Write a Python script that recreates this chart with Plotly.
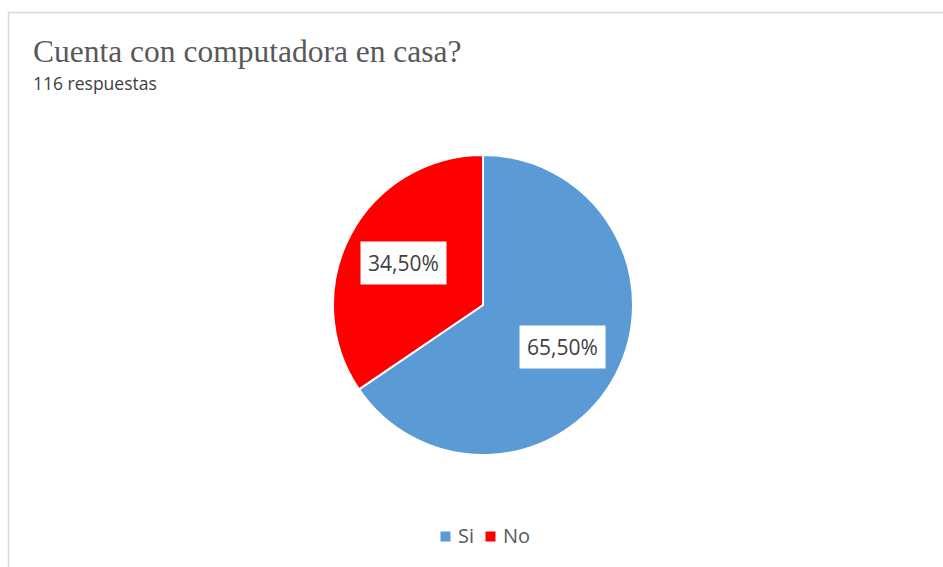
import math
import plotly.graph_objects as go

# Survey answers (share of 116 responses, in percent)
categories = ["Si", "No"]
shares = [65.5, 34.5]
colors = ["#5B9BD5", "#FF0000"]
title_text = "Cuenta con computadora en casa?"
subtitle_text = "116 respuestas"

W, H = 943, 567
cx, cy, r = 483, 305, 150  # pie centre and radius in pixels

fig = go.Figure()
fig.add_trace(go.Pie(
    labels=categories,
    values=shares,
    sort=False,
    direction="clockwise",
    rotation=0,
    marker=dict(colors=colors, line=dict(color="white", width=2)),
    textinfo="none",
    hoverinfo="label+percent",
    showlegend=False,
    domain=dict(x=[(cx - r) / W, (cx + r) / W], y=[1 - (cy + r) / H, 1 - (cy - r) / H]),
))

# Percentage labels in white boxes, placed at each slice's mid-angle
total = sum(shares)
start = 0.0
for cat, v in zip(categories, shares):
    mid = (start + v / 2) / total * 2 * math.pi
    start += v
    px = cx + 0.6 * r * math.sin(mid)
    py = cy - 0.6 * r * math.cos(mid)
    fig.add_annotation(
        x=px / W, y=1 - py / H, xref="paper", yref="paper",
        text=f"{v:.2f}%".replace(".", ","), showarrow=False,
        font=dict(family="Open Sans", size=21, color="#404040"),
        bgcolor="white", borderpad=7,
    )

# Legend row at the bottom: a colour swatch followed by the category name
legend_y = 1 - 535 / H
legend_x = 441          # left edge of the first swatch (px)
swatch, gap_text, gap_item, char_w = 9, 7, 13, 8.2
for cat, c in zip(categories, colors):
    fig.add_annotation(
        x=(legend_x + swatch / 2) / W, y=legend_y - 7 / H, xref="paper", yref="paper",
        text="", showarrow=False, width=swatch, height=swatch,
        bgcolor=c, borderpad=0,
    )
    fig.add_annotation(
        x=(legend_x + swatch + gap_text) / W, y=legend_y, xref="paper", yref="paper",
        xanchor="left", yanchor="middle", text=cat, showarrow=False, borderpad=0,
        font=dict(family="Open Sans", size=20, color="#595959"),
    )
    legend_x += swatch + gap_text + len(cat) * char_w + gap_item

fig.add_annotation(
    x=31 / W, y=1 - 51 / H, xref="paper", yref="paper", xanchor="left", yanchor="middle",
    text=title_text, showarrow=False,
    font=dict(family="Liberation Serif", size=31.5, color="#595959"),
)
fig.add_annotation(
    x=31 / W, y=1 - 83 / H, xref="paper", yref="paper", xanchor="left", yanchor="middle",
    text=subtitle_text, showarrow=False,
    font=dict(family="Open Sans", size=17.5, color="#404040"),
)

# Chart frame
fig.add_shape(type="rect", xref="paper", yref="paper",
              x0=8.5 / W, x1=1.05, y0=-0.05, y1=1 - 12.5 / H,
              line=dict(color="#D9D9D9", width=1.5), fillcolor="rgba(0,0,0,0)")

fig.update_layout(
    width=W, height=H,
    margin=dict(l=0, r=0, t=0, b=0),
    paper_bgcolor="white", plot_bgcolor="white",
)

fig.write_html("out.html")
